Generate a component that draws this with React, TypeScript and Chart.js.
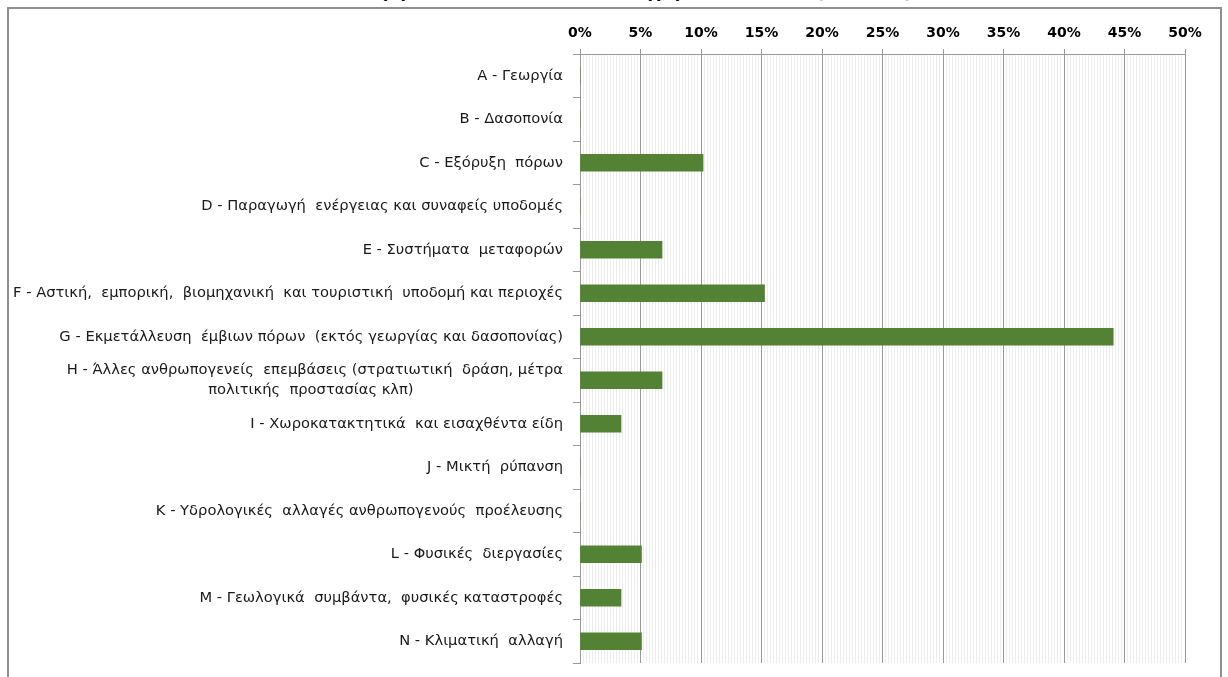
import React, { useEffect, useRef } from "react";
import { Chart, registerables } from "chart.js";

Chart.register(...registerables);

const TITLE = "Κατανομή πιέσεων/απειλών ανά κατηγορία, 2013-2018 (ποσοστό)";

const categories: (string | string[])[] = [
  "A - Γεωργία",
  "B - Δασοπονία",
  "C - Εξόρυξη  πόρων",
  "D - Παραγωγή  ενέργειας και συναφείς υποδομές",
  "E - Συστήματα  μεταφορών",
  "F - Αστική,  εμπορική,  βιομηχανική  και τουριστική  υποδομή και περιοχές",
  "G - Εκμετάλλευση  έμβιων πόρων  (εκτός γεωργίας και δασοπονίας)",
  [
    "H - Άλλες ανθρωπογενείς  επεμβάσεις (στρατιωτική  δράση, μέτρα",
    "πολιτικής  προστασίας κλπ)" + "\u00A0".repeat(32),
  ],
  "I - Χωροκατακτητικά  και εισαχθέντα είδη",
  "J - Μικτή  ρύπανση",
  "K - Υδρολογικές  αλλαγές ανθρωπογενούς  προέλευσης",
  "L - Φυσικές  διεργασίες",
  "M - Γεωλογικά  συμβάντα,  φυσικές καταστροφές",
  "N - Κλιματική  αλλαγή",
];

const shares: number[] = [0, 0, 10.17, 0, 6.78, 15.25, 44.07, 6.78, 3.39, 0, 0, 5.08, 3.39, 5.08];

const xMin = 0;
const xMax = 50;
const majorStep = 5;
const minorStep = 0.25;

const isMajor = (v: number) => Math.abs(v / majorStep - Math.round(v / majorStep)) < 1e-6;

export default function App() {
  const ref = useRef<HTMLCanvasElement | null>(null);

  useEffect(() => {
    if (!ref.current) return;
    const chart = new Chart(ref.current, {
      type: "bar",
      data: {
        labels: categories,
        datasets: [
          {
            data: shares,
            backgroundColor: "#548235",
            borderWidth: 0,
            barThickness: 17,
          },
        ],
      },
      options: {
        indexAxis: "y",
        responsive: false,
        animation: false,
        layout: { padding: { left: 10, right: 43, top: 0, bottom: 14 } },
        plugins: { legend: { display: false }, tooltip: { enabled: false }, title: { display: false } },
        scales: {
          x: {
            position: "top",
            min: xMin,
            max: xMax,
            afterFit: (s: any) => {
              s.height = 54;
            },
            ticks: {
              stepSize: minorStep,
              autoSkip: false,
              maxTicksLimit: 1000,
              maxRotation: 0,
              padding: 7,
              color: "#000",
              font: { family: "DejaVu Sans", size: 14, weight: "bold" },
              callback: (v: any) => (isMajor(Number(v)) ? Math.round(Number(v)) + "%" : ""),
            },
            grid: {
              color: (c: any) => (c.tick && isMajor(c.tick.value) ? "#999999" : "#ededed"),
              tickColor: (c: any) => (c.tick && isMajor(c.tick.value) ? "#999999" : "rgba(0,0,0,0)"),
              tickLength: 5,
              lineWidth: 1,
            },
            border: { color: "#999999", width: 1 },
          },
          y: {
            afterFit: (s: any) => {
              s.width = 570;
              s.paddingTop = 0;
              s.paddingBottom = 0;
            },
            ticks: {
              autoSkip: false,
              padding: 10,
              color: "#1a1a1a",
              font: { family: "DejaVu Sans", size: 14.7, lineHeight: 1.4 },
            },
            grid: {
              display: true,
              drawOnChartArea: false,
              offset: true,
              tickLength: 7,
              color: "#999999",
            },
            border: { color: "#999999", width: 1 },
          },
        },
      },
    });
    return () => chart.destroy();
  }, []);

  return (
    <div
      style={{
        position: "absolute",
        left: 0,
        top: 0,
        width: 1228,
        height: 677,
        overflow: "hidden",
        background: "#fff",
      }}
    >
      <div
        style={{
          position: "absolute",
          left: 0,
          top: -17,
          width: 1228,
          textAlign: "center",
          fontFamily: "DejaVu Sans",
          fontWeight: "bold",
          fontSize: 16,
          color: "#000",
          whiteSpace: "nowrap",
        }}
      >
        {TITLE}
      </div>
      <div
        style={{
          position: "absolute",
          left: 7,
          top: 7,
          width: 1211,
          height: 700,
          border: "2px solid #8e8e8e",
          background: "#fff",
        }}
      />
      <canvas ref={ref} width={1228} height={677} style={{ position: "absolute", left: 0, top: 0 }} />
    </div>
  );
}
